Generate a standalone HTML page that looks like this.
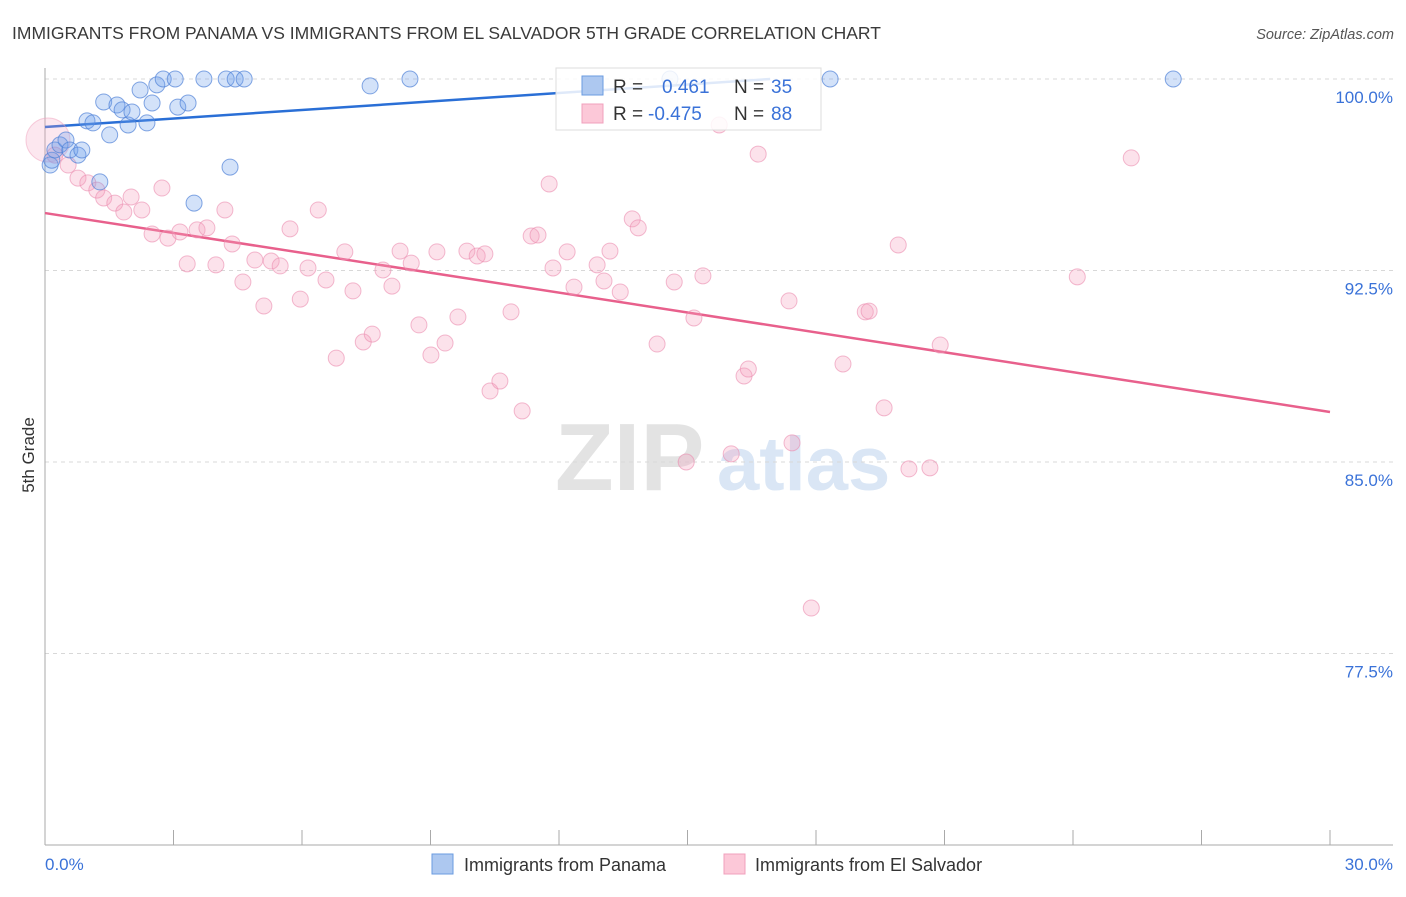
<!DOCTYPE html>
<html><head><meta charset="utf-8"><style>
body{margin:0;background:#fff;font-family:"Liberation Sans",sans-serif;}
svg text{font-family:"Liberation Sans",sans-serif;}
</style></head><body>
<svg id="chart" width="1406" height="892" xmlns="http://www.w3.org/2000/svg">
<text x="12" y="39" font-size="17.5" fill="#3a3a3a">IMMIGRANTS FROM PANAMA VS IMMIGRANTS FROM EL SALVADOR 5TH GRADE CORRELATION CHART</text>
<text x="1394" y="39" font-size="14.5" fill="#555" text-anchor="end" font-style="italic">Source: ZipAtlas.com</text>
<text transform="translate(34,455) rotate(-90)" font-size="17" fill="#333" text-anchor="middle">5th Grade</text>
<g opacity="0.9">
<text x="555" y="490" font-size="96" fill="#e0e0e0" font-family="Liberation Serif" font-weight="bold">ZIP</text>
<text x="717" y="490" font-size="76" fill="#d6e4f5" font-weight="bold">atlas</text>
</g>
<g id="grid"></g><g id="axes"></g><g id="trend"></g><g id="pts"></g>
<g>
<rect x="556" y="68" width="265" height="62" fill="#fff" fill-opacity="0.85" stroke="#ddd"/>
<rect x="582" y="76" width="21" height="19" fill="#adc8f0" stroke="#6a9be0"/>
<rect x="582" y="104" width="21" height="19" fill="#fcc8d8" stroke="#f0a0bc"/>
<text x="613" y="93" font-size="19" fill="#333">R =</text>
<text x="662" y="93" font-size="19" fill="#3a72d8">0.461</text>
<text x="734" y="93" font-size="19" fill="#333">N =</text>
<text x="771" y="93" font-size="19" fill="#3a72d8">35</text>
<text x="613" y="120" font-size="19" fill="#333">R =</text>
<text x="648" y="120" font-size="19" fill="#3a72d8">-0.475</text>
<text x="734" y="120" font-size="19" fill="#333">N =</text>
<text x="771" y="120" font-size="19" fill="#3a72d8">88</text>
</g>
<g>
<rect x="432" y="854" width="21" height="20" fill="#adc8f0" stroke="#6a9be0"/>
<text x="464" y="871" font-size="18" fill="#333">Immigrants from Panama</text>
<rect x="724" y="854" width="21" height="20" fill="#fcc8d8" stroke="#f0a0bc"/>
<text x="755" y="871" font-size="18" fill="#333">Immigrants from El Salvador</text>
</g>
<text x="45" y="870" font-size="17" fill="#3a72d8">0.0%</text>
<text x="1393" y="870" font-size="17" fill="#3a72d8" text-anchor="end">30.0%</text>
</svg>
<script>
const yTicks=[100,92.5,85,77.5];
const yTickLabels=["100.0%","92.5%","85.0%","77.5%"];
const panamaX=[0.12,0.16,0.23,0.35,0.49,0.58,0.77,0.86,0.98,1.12,1.28,1.37,1.51,1.68,1.80,1.94,2.03,2.22,2.38,2.50,2.61,2.76,3.04,3.10,3.34,3.48,3.71,4.23,4.32,4.44,4.65,7.59,8.52,14.59,18.33,26.34];
const panamaY=[96.63,96.82,97.22,97.42,97.61,97.22,97.02,97.22,98.36,98.28,95.97,99.10,97.81,98.98,98.79,98.20,98.71,99.57,98.28,99.06,99.77,100,100,98.90,99.06,95.14,100,100,96.55,100,100,99.73,100,100,100,100];
const salvX=[0.23,0.54,0.77,1.00,1.21,1.37,1.63,1.84,2.01,2.26,2.50,2.73,2.87,3.15,3.32,3.55,3.78,3.99,4.20,4.37,4.62,4.90,5.11,5.28,5.49,5.72,5.96,6.14,6.38,6.56,6.80,7.00,7.19,7.43,7.64,7.89,8.10,8.29,8.55,8.73,9.01,9.15,9.34,9.64,9.85,10.09,10.27,10.39,10.62,10.88,11.14,11.35,11.51,11.77,11.86,12.19,12.35,12.89,13.05,13.19,13.43,13.71,13.85,14.29,14.69,14.97,15.15,15.36,15.74,16.02,16.32,16.42,16.65,17.44,17.37,17.89,18.63,19.15,19.24,19.59,19.92,20.17,20.66,20.90,24.10,25.36];
const salvY=[97.02,96.63,96.12,95.93,95.65,95.34,95.14,94.79,95.38,94.87,93.93,95.73,93.77,94.01,92.76,94.09,94.17,92.72,94.87,93.54,92.05,92.91,91.11,92.87,92.68,94.13,91.38,92.60,94.87,92.13,89.07,93.23,91.70,89.70,90.01,92.52,91.89,93.26,92.79,90.37,89.19,93.23,89.66,90.68,93.26,93.07,93.15,87.78,88.17,90.88,87.00,93.85,93.89,95.89,92.60,93.23,91.85,92.72,92.09,93.26,91.66,94.52,94.17,89.62,92.05,85.00,90.64,92.29,98.20,85.32,88.37,88.64,97.06,85.75,91.31,79.28,88.84,90.88,90.91,87.12,93.50,84.73,84.77,89.58,92.25,96.91];
const panamaTrend=[98.12,100,16.93]; // y at x=0, y at xEnd, xEnd
const salvTrend=[94.75,86.96,30];
const NS="http://www.w3.org/2000/svg";
const X=v=>45+v*1285/30;
const Y=v=>79+(100-v)*191.5/7.5;
function mk(t,a,p){const e=document.createElementNS(NS,t);for(const k in a)e.setAttribute(k,a[k]);p.appendChild(e);return e;}
const grid=document.getElementById('grid'),axes=document.getElementById('axes'),trend=document.getElementById('trend'),pts=document.getElementById('pts');
yTicks.forEach((t,i)=>{
 const l=mk('line',{x1:45,x2:1393,y1:Y(t),y2:Y(t),stroke:'#d8d8d8','stroke-dasharray':'4,4'},grid);
 
 
 const tx=mk('text',{x:1393,y:Y(t)+24,'font-size':17,fill:'#3a72d8','text-anchor':'end'},grid);
 tx.textContent=yTickLabels[i];
 
 
});
const ya=mk('line',{x1:45,x2:45,y1:68,y2:845,stroke:'#aaa'},axes);


const xa=mk('line',{x1:45,x2:1393,y1:845,y2:845,stroke:'#aaa'},axes);


for(let i=0;i<=10;i++){
 const tk=mk('line',{x1:X(i*3),x2:X(i*3),y1:830,y2:845,stroke:'#aaa'},axes);
 
 
}
const big=mk('circle',{cx:X(0.07),cy:Y(97.61),r:22,fill:'rgba(245,160,190,0.25)',stroke:'rgba(240,160,188,0.5)'},pts);


salvX.forEach((x,i)=>{
 const c=mk('circle',{cx:X(x),cy:Y(salvY[i]),r:8,fill:'rgba(245,160,190,0.3)',stroke:'rgba(235,140,175,0.6)'},pts);
 
 
});
panamaX.forEach((x,i)=>{
 const c=mk('circle',{cx:X(x),cy:Y(panamaY[i]),r:8,fill:'rgba(110,160,235,0.3)',stroke:'rgba(80,130,215,0.7)'},pts);
 
 
});
const tb=mk('line',{x1:X(0),y1:Y(panamaTrend[0]),x2:X(panamaTrend[2]),y2:Y(panamaTrend[1]),stroke:'#2a6fd6','stroke-width':2.5},trend);


const tp=mk('line',{x1:X(0),y1:Y(salvTrend[0]),x2:X(salvTrend[2]),y2:Y(salvTrend[1]),stroke:'#e8608c','stroke-width':2.5},trend);


</script>
</body></html>
